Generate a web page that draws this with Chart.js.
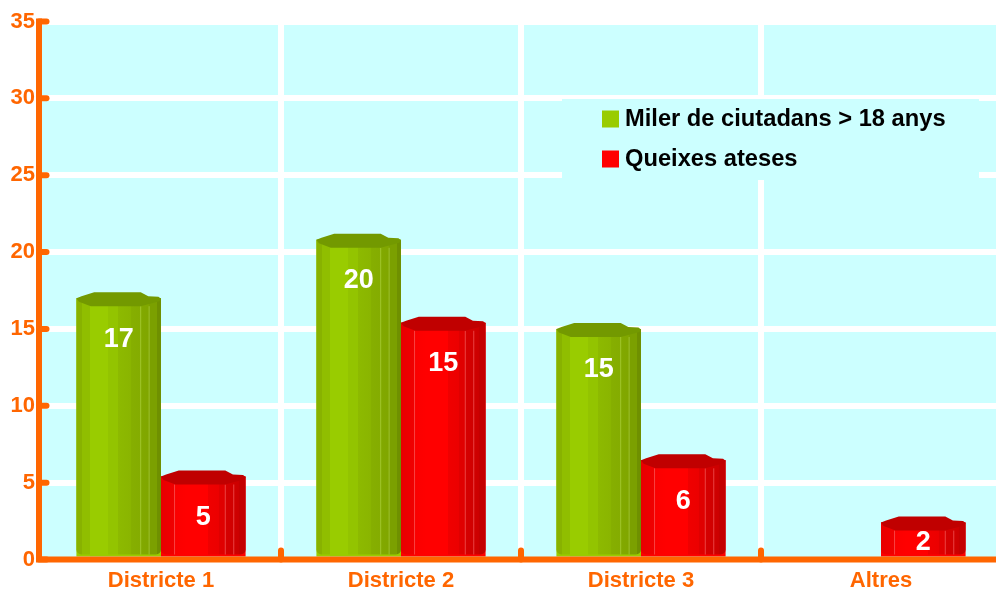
<!DOCTYPE html>
<html lang="ca">
<head>
<meta charset="utf-8">
<title>Queixes ateses per districte</title>
<script src="https://cdn.jsdelivr.net/npm/chart.js@4"></script>
<style>
html,body{margin:0;padding:0;width:996px;height:590px;overflow:hidden;background:#fff}
#wrap{width:996px;height:590px;overflow:hidden;position:relative}
canvas{display:block}
</style>
</head>
<body>
<div id="wrap"><canvas id="c" width="1001" height="590"></canvas></div>
<script>
const categories = ["Districte 1", "Districte 2", "Districte 3", "Altres"];
const seriesNames = ["Miler de ciutadans > 18 anys", "Queixes ateses"];
const citizens = [17, 20.8, 15, null];
const complaints = [5.4, 15.4, 6.45, 2.4];
const citizensLabels = ["17", "20", "15", ""];
const complaintsLabels = ["5", "15", "6", "2"];
const yMax = 35;
const yStep = 5;

const ORANGE = "#FF6600", CYAN = "#CCFFFF", FONT = '"Liberation Sans", Arial, sans-serif';
const palette = [
  { base: "#99CC00", cap: "#739900", seam: "rgba(190,225,90,.5)", seams: [.76, .86],
    stops: [[0,"#88B200"],[.07,"#88B200"],[.07,"#90BE00"],[.16,"#90BE00"],[.16,"#99CC00"],[.37,"#99CC00"],[.37,"#93C400"],[.49,"#93C400"],[.49,"#8DBA00"],[.64,"#8AB500"],[.64,"#86AF00"],[.76,"#84AC00"],[.76,"#82A900"],[.86,"#80A600"],[.86,"#7BA000"],[.95,"#7BA000"],[.95,"#6F9000"],[1,"#6F9000"]] },
  { base: "#FF0000", cap: "#C00000", seam: "rgba(255,120,120,.55)", seams: [.16, .76, .86],
    stops: [[0,"#E80000"],[.16,"#F00000"],[.16,"#FA0000"],[.3,"#FF0000"],[.55,"#FF0000"],[.55,"#F00000"],[.68,"#EC0000"],[.68,"#E00000"],[.76,"#E00000"],[.76,"#D60000"],[.92,"#CC0000"],[.92,"#C40000"],[1,"#C40000"]] }
];
const valueLabels = [citizensLabels, complaintsLabels];

const capShape = [[0,0],[.06,-2],[.21,-6],[.76,-6],[.85,-2],[.97,-1.5],[1,.5],[.98,3],[.76,8],[.17,8],[.03,3.5]];

const decor = {
  id: "decor",
  beforeDraw(chart) {
    const { ctx, chartArea: a } = chart;
    ctx.save();
    ctx.fillStyle = CYAN;
    ctx.fillRect(a.left + 1, a.top + 3, a.right - a.left, a.bottom - a.top - 3);
    ctx.restore();
  },
  beforeDatasetsDraw(chart) {
    const { ctx } = chart;
    ctx.save();
    ctx.fillStyle = CYAN;
    ctx.fillRect(562, 99, 417, 81);
    ctx.textBaseline = "middle";
    ctx.textAlign = "left";
    ctx.font = "bold 23.7px " + FONT;
    chart.data.datasets.forEach((ds, i) => {
      const y = 119 + i * 40;
      ctx.fillStyle = palette[i].base;
      ctx.fillRect(602, y - 8.5, 17, 17);
      ctx.fillStyle = "#000";
      ctx.fillText(ds.label, 625, y);
    });
    ctx.restore();
  },
  afterDatasetsDraw(chart) {
    const { ctx, scales: { x, y } } = chart;
    chart.data.datasets.forEach((ds, i) => {
      const p = palette[i];
      chart.getDatasetMeta(i).data.forEach((el, j) => {
        if (ds.data[j] == null) return;
        const x0 = el.x - el.width / 2, w = el.width, top = el.y, base = el.base - 2;
        ctx.save();
        const g = ctx.createLinearGradient(x0, 0, x0 + w, 0);
        p.stops.forEach(s => g.addColorStop(s[0], s[1]));
        ctx.fillStyle = g;
        ctx.beginPath();
        ctx.roundRect(x0, top, w, base - top, [0, 0, 5, 5]);
        ctx.fill();
        ctx.strokeStyle = p.seam;
        ctx.lineWidth = 1;
        p.seams.forEach(f => {
          ctx.beginPath();
          ctx.moveTo(x0 + w * f, top + 8);
          ctx.lineTo(x0 + w * f, base);
          ctx.stroke();
        });
        ctx.fillStyle = p.cap;
        ctx.beginPath();
        capShape.forEach((s, k) => {
          const px = x0 + s[0] * w, py = top + s[1];
          k ? ctx.lineTo(px, py) : ctx.moveTo(px, py);
        });
        ctx.closePath();
        ctx.fill();
        ctx.fillStyle = "#fff";
        ctx.font = "bold 27px " + FONT;
        ctx.textAlign = "center";
        ctx.textBaseline = "middle";
        ctx.fillText(valueLabels[i][j], el.x, Math.min(top + 41, el.base - 14));
        ctx.restore();
      });
    });
    const a = chart.chartArea;
    ctx.save();
    ctx.strokeStyle = ORANGE;
    ctx.lineWidth = 6;
    ctx.lineCap = "round";
    y.ticks.forEach(t => {
      const py = y.getPixelForValue(t.value);
      ctx.beginPath();
      ctx.moveTo(39, py);
      ctx.lineTo(46.5, py);
      ctx.stroke();
    });
    const step = (a.right - a.left) / categories.length;
    categories.forEach((c, i) => {
      if (i === 0) return;
      const px = x.getPixelForValue(i) - step / 2;
      ctx.beginPath();
      ctx.moveTo(px, a.bottom);
      ctx.lineTo(px, a.bottom - 9);
      ctx.stroke();
    });
    ctx.lineCap = "butt";
    ctx.beginPath();
    ctx.moveTo(39, a.top - 3);
    ctx.lineTo(39, a.bottom + 3);
    ctx.moveTo(36, a.bottom);
    ctx.lineTo(a.right, a.bottom);
    ctx.stroke();
    ctx.restore();
  }
};

new Chart(document.getElementById("c"), {
  type: "bar",
  data: {
    labels: categories,
    datasets: [
      { label: seriesNames[0], data: citizens, backgroundColor: palette[0].base },
      { label: seriesNames[1], data: complaints, backgroundColor: palette[1].base }
    ]
  },
  options: {
    responsive: false,
    animation: false,
    layout: { padding: { top: 21.5, right: 0, left: 0, bottom: 0 } },
    categoryPercentage: 0.705,
    barPercentage: 1,
    plugins: { legend: { display: false }, tooltip: { enabled: false } },
    scales: {
      x: {
        afterFit(s) { s.height = 30.5; },
        border: { display: false },
        grid: { color: c => (c.index === 0 ? "rgba(0,0,0,0)" : "#fff"), lineWidth: 6, drawTicks: false },
        ticks: { color: ORANGE, font: { family: FONT, size: 22, weight: "bold" }, padding: 8, maxRotation: 0 }
      },
      y: {
        min: 0, max: yMax,
        afterFit(s) { s.width = 41; },
        border: { display: false },
        grid: { color: "#fff", lineWidth: 6, drawTicks: false },
        ticks: { stepSize: yStep, color: ORANGE, font: { family: FONT, size: 22, weight: "bold" }, padding: 6, labelOffset: 0 }
      }
    }
  },
  plugins: [decor]
});
</script>
</body>
</html>
